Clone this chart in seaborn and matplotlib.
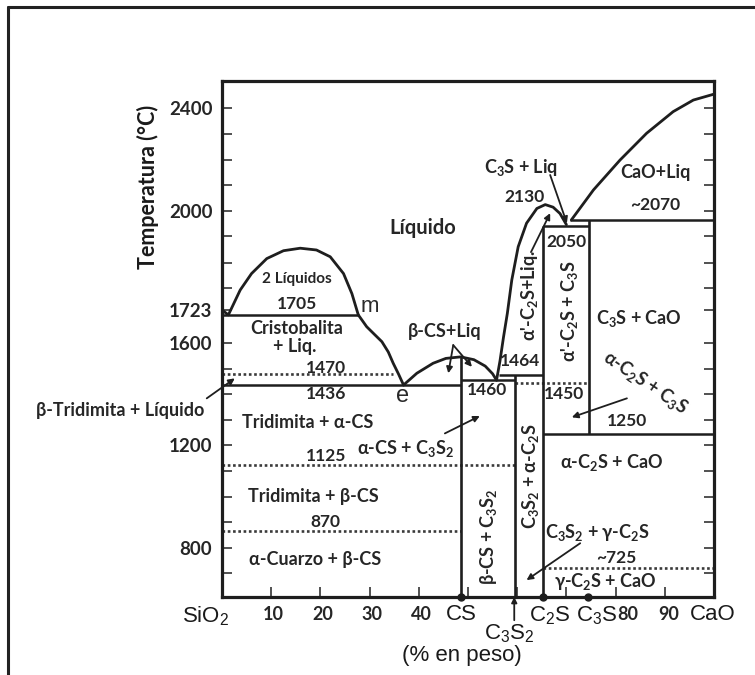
import numpy as np
import matplotlib
matplotlib.use("Agg")
import matplotlib.pyplot as plt
import seaborn as sns
from matplotlib.lines import Line2D

# Diagrama de fases SiO2 - CaO

# escala de temperatura del dibujo original (no es lineal entre 1600 y 2000)
esc_t = [500, 1600, 1723, 2000, 2600]
esc_px = [624.6, 343, 310, 211, 56.5]

# curvas (x = % CaO, t = temperatura)
domo_x = [0, 1.3, 3.7, 6.0, 9.1, 12.5, 15.9, 19.2, 22.0, 24.7, 26.4, 27.7]
domo_t = [1723, 1705, 1779, 1825, 1867, 1889, 1896, 1891, 1872, 1825, 1769, 1705]
liq_sio2_x = [27.7, 29.4, 31.0, 32.5, 33.8, 34.8, 35.9, 36.9]
liq_sio2_t = [1705, 1661, 1632, 1605, 1565, 1521, 1478, 1436]
liq_cs_x = [36.9, 39.6, 42.9, 45.5, 48.5, 51.2, 53.5, 55.0, 55.8]
liq_cs_t = [1436, 1482, 1521, 1540, 1546, 1535, 1510, 1480, 1455]
liq_c2s_x = [55.8, 56.5, 57.2, 58.0, 58.9, 60.2, 61.9, 64.0, 65.7, 67.3, 68.7, 70.0]
liq_c2s_t = [1455, 1530, 1620, 1711, 1807, 1900, 1966, 2010, 2025, 2015, 1993, 1962]
liq_cao_x = [71.0, 73.5, 75.5, 80.9, 86.3, 91.7, 95.8, 100]
liq_cao_t = [1975, 2030, 2082, 2198, 2302, 2386, 2431, 2454]

# isotermas continuas
iso_t = [1705, 1436, 1455, 1475, 1245, 1958, 1975]
iso_x0 = [0, 0, 48.5, 56.2, 65.2, 65.2, 70.7]
iso_x1 = [27.7, 48.5, 59.6, 65.2, 100, 74.5, 100]
# isotermas punteadas
pun_t = [1479, 1123, 867, 1443, 720]
pun_x0 = [0, 0, 0, 59.6, 65.2]
pun_x1 = [34.8, 59.6, 48.5, 74.5, 100]
# lineas verticales (compuestos)
ver_x = [48.5, 59.6, 65.2, 74.5]
ver_t0 = [600, 600, 600, 1245]
ver_t1 = [1546, 1475, 1958, 1975]
comp_x = [48.5, 65.2, 74.3]

# etiquetas de las regiones
et_txt = ['Líquido', '2 Líquidos', '1705', 'Cristobalita', '+ Liq.', '1470', '1436',
          'β-Tridimita + Líquido', 'Tridimita + α-CS', 'α-CS + C_3S_2', '1125',
          'Tridimita + β-CS', '870', 'α-Cuarzo + β-CS', 'β-CS+Liq', '1460', '1464',
          '1450', 'C_3S + CaO', '1250', 'α-C_2S + CaO', 'C_3S_2 + γ-C_2S', '~725',
          'γ-C_2S + CaO', 'C_3S + Liq', '2130', 'CaO+Liq', '~2070', '2050']
et_x = [40.9, 15.2, 15.3, 15.2, 14.8, 21.1, 21.1, -20.7, 17.4, 37.4, 21.1, 18.6, 21.1,
        18.9, 45.2, 53.8, 60.6, 69.5, 84.8, 82.4, 79.2, 76.3, 80.2, 78.0, 60.7, 61.4,
        88.0, 88.0, 70.1]
et_t = [1952, 1810, 1739, 1656, 1588, 1504, 1401, 1338, 1289, 1190, 1159, 1002, 901,
        756, 1642, 1418, 1530, 1401, 1693, 1295, 1133, 858, 760, 670, 2169, 2056,
        2150, 2023, 1914]
# etiquetas giradas
rot_txt = ['β-CS + C_3S_2', 'C_3S_2 + α-C_2S', "α'-C_2S+Liq.", "α'-C_2S + C_3S", 'α-C_2S + C_3S']
rot_x = [54.1, 62.8, 62.6, 70.7, 86.0]
rot_t = [842, 1080, 1763, 1717, 1446]
rot_ang = [90, 90, 90, 90, -34]

# flechas (desde -> hasta)
fl_x0 = [-3.1, 45.3, 47.0, 47.0, 66.7, 62.8, 82.3, 72.8]
fl_t0 = [1384, 1247, 1592, 1592, 2140, 1885, 1384, 818]
fl_x1 = [2.6, 52.4, 46.0, 50.8, 70.1, 66.7, 71.1, 61.9]
fl_t1 = [1462, 1315, 1482, 1507, 1966, 1994, 1310, 674]

ytick_v = [800, 1200, 1600, 1723, 2000, 2400]
ytick_min = [700, 900, 1000, 1100, 1300, 1400, 1500, 1785, 1855, 1930, 2100, 2200, 2300]


def sub(s):
    return s.replace('_2', r'$\mathregular{_2}$').replace('_3', r'$\mathregular{_3}$')


def t_a_u(t):
    return -np.interp(t, esc_t, esc_px)


def u_a_t(u):
    return np.interp(-np.asarray(u), esc_px[::-1], esc_t[::-1])


sns.set_theme(style='white')
plt.rcParams['font.family'] = ['Lato', 'DejaVu Sans']
negro = '#1e1e1e'

fig = plt.figure(figsize=(7.55, 6.75), dpi=100)
ax = fig.add_axes([222 / 755, 78 / 675, 492 / 755, 516 / 675])
ax.set_yscale('function', functions=(t_a_u, u_a_t))
ax.set_xlim(0, 100)
ax.set_ylim(608, 2505)

for cx, ct in [(domo_x, domo_t), (liq_sio2_x, liq_sio2_t), (liq_cs_x, liq_cs_t),
               (liq_c2s_x, liq_c2s_t), (liq_cao_x, liq_cao_t)]:
    sns.lineplot(x=cx, y=ct, ax=ax, sort=False, estimator=None, color=negro, lw=2.0)

ax.hlines(iso_t, iso_x0, iso_x1, color=negro, lw=1.8)
ax.hlines(pun_t, pun_x0, pun_x1, color='#3a3a3a', lw=1.9, linestyles=(0, (1, 1)))
ax.vlines(ver_x, ver_t0, ver_t1, color=negro, lw=1.9)
ax.plot(comp_x, [608] * len(comp_x), 'o', color=negro, ms=5, clip_on=False, zorder=5)

for s, x, t in zip(et_txt, et_x, et_t):
    size = 12.5 if s.strip('~').isdigit() else 13
    if s == 'Líquido':
        size = 14.5
    if s == '2 Líquidos':
        size = 11
    ax.text(x, t, sub(s), ha='center', va='center', fontsize=size,
            fontweight='bold', color='#262626')
for s, x, t, r in zip(rot_txt, rot_x, rot_t, rot_ang):
    ax.text(x, t, sub(s), ha='center', va='center', fontsize=13, rotation=r,
            rotation_mode='anchor', fontweight='bold', color='#262626')
ax.text(30.1, 1733, 'm', ha='center', va='center', fontsize=16,
        family='Liberation Sans', color='#2a2a2a')
ax.text(36.7, 1393, 'e', ha='center', va='center', fontsize=17,
        family='Liberation Sans', color='#2a2a2a')

for x0, t0, x1, t1 in zip(fl_x0, fl_t0, fl_x1, fl_t1):
    ax.annotate('', xy=(x1, t1), xytext=(x0, t0), annotation_clip=False,
                arrowprops=dict(arrowstyle='-|>', color=negro, lw=1.3,
                                mutation_scale=9, shrinkA=0, shrinkB=0))

# ejes
for sp in ax.spines.values():
    sp.set_linewidth(2.3)
    sp.set_color(negro)
ax.set_yticks(ytick_v)
ax.set_yticklabels([str(v) for v in ytick_v], fontsize=13.5, fontweight='bold', color='#262626')
ax.set_yticks(ytick_min, minor=True)
ax.set_xticks(range(10, 100, 10))
ax.set_xticklabels([])
ax.tick_params(axis='y', which='both', direction='in', left=True, right=True,
               length=7, width=1.2, color='#333333', pad=7)
ax.tick_params(axis='x', which='both', direction='in', bottom=True, top=False,
               length=7, width=1.2, color='#333333')

xt = ax.get_xaxis_transform()
for s, x in zip(['10', '20', '30', '40', '80', '90'], [10.5, 20.5, 30.5, 40.5, 82.5, 90.7]):
    ax.text(x, -0.017, s, transform=xt, ha='center', va='top', fontsize=13,
            fontweight='bold', color='#262626')
for s, x in zip(['SiO_2', 'CS', 'C_2S', 'C_3S', 'CaO'], [-3.3, 48.6, 66.6, 76.2, 99.8]):
    ax.text(x, -0.014, sub(s), transform=xt, ha='center', va='top', fontsize=16,
            family='Liberation Sans', color='#1a1a1a')
ax.text(58.3, -0.05, sub('C_3S_2'), transform=xt, ha='center', va='top', fontsize=16,
        family='Liberation Sans', color='#1a1a1a')
ax.annotate('', xy=(59.4, 0), xycoords=xt, xytext=(59.4, -0.045), textcoords=xt,
            annotation_clip=False,
            arrowprops=dict(arrowstyle='-|>', color=negro, lw=1.3, mutation_scale=8,
                            shrinkA=0, shrinkB=0))
ax.text(48.8, -0.114, '(% en peso)', transform=xt, ha='center', va='center',
        fontsize=16, family='Liberation Sans', color='#1a1a1a')
ax.text(-0.151, 0.795, 'Temperatura (°C)', transform=ax.transAxes, rotation=90,
        ha='center', va='center', fontsize=15.5, fontweight='bold', color='#1a1a1a')

# marco exterior
fig.add_artist(Line2D([8 / 755, 8 / 755], [0, 1 - 7 / 675], transform=fig.transFigure,
                      color='#222222', lw=2.2))
fig.add_artist(Line2D([8 / 755, 1], [1 - 7 / 675, 1 - 7 / 675], transform=fig.transFigure,
                      color='#222222', lw=2.2))

fig.savefig('out.png', dpi=100, facecolor='white')
